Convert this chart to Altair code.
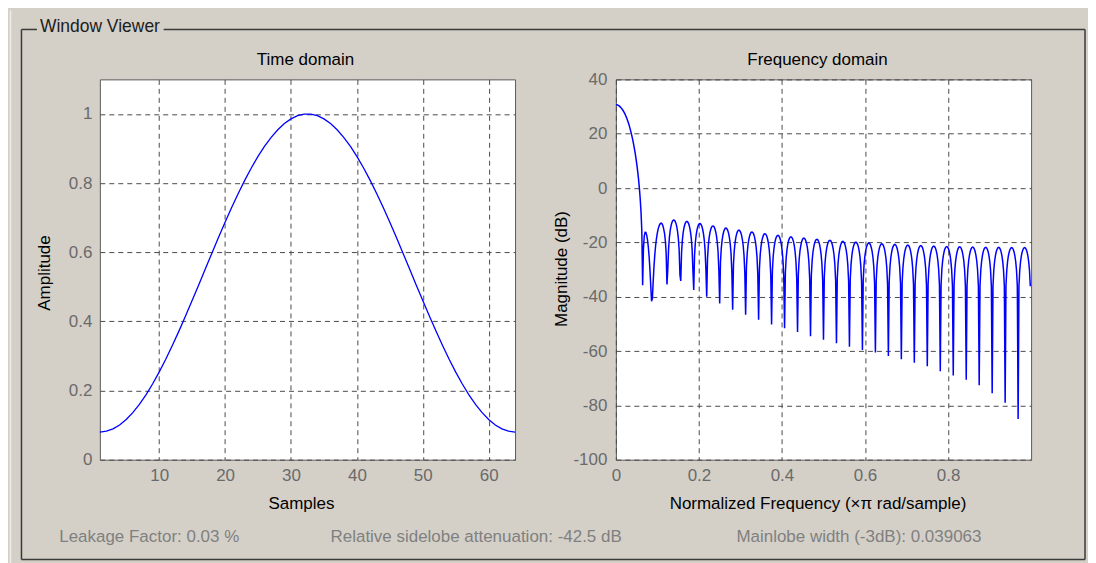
import altair as alt
import pandas as pd

# ---------------- data ----------------
samples = list(range(1, 65))
amplitude = [
    0.0800, 0.0823, 0.0891, 0.1004, 0.1161, 0.1360, 0.1599, 0.1876,
    0.2188, 0.2532, 0.2905, 0.3301, 0.3719, 0.4154, 0.4601, 0.5056,
    0.5515, 0.5972, 0.6424, 0.6865, 0.7292, 0.7700, 0.8085, 0.8444,
    0.8772, 0.9067, 0.9325, 0.9544, 0.9723, 0.9858, 0.9949, 0.9994,
    0.9994, 0.9949, 0.9858, 0.9723, 0.9544, 0.9325, 0.9067, 0.8772,
    0.8444, 0.8085, 0.7700, 0.7292, 0.6865, 0.6424, 0.5972, 0.5515,
    0.5056, 0.4601, 0.4154, 0.3719, 0.3301, 0.2905, 0.2532, 0.2188,
    0.1876, 0.1599, 0.1360, 0.1161, 0.1004, 0.0891, 0.0823, 0.0800,
]

# magnitude (dB), 512 points from 0 to 511/512 (x pi rad/sample)
mag_db = [
    30.66, 30.63, 30.55, 30.42, 30.23, 29.98, 29.68, 29.32, 28.94, 28.46, 27.96, 27.37, 26.73, 26.03, 25.24, 24.39,
    23.45, 22.43, 21.32, 20.12, 18.83, 17.46, 15.91, 14.26, 12.45, 10.46, 8.27, 5.83, 3.07, -0.13, -3.95, -8.81,
    -15.94, -35.8, -22.2, -17.65, -16.30, -16.35, -17.33, -19.11, -21.70, -25.23, -29.93, -35.98, -41.70, -40.58, -34.44, -28.84,
    -24.53, -21.23, -18.68, -16.8, -15.23, -14.2, -13.41, -13.05, -12.95, -13.25, -13.88, -15.1, -16.72, -19.39, -23.92, -35.50,
    -30.03, -22.38, -18.17, -15.61, -13.92, -12.79, -12.11, -11.80, -11.83, -12.19, -12.93, -14.10, -15.83, -18.41, -22.66, -31.95,
    -34.2, -23.68, -19.08, -16.36, -14.58, -13.41, -12.68, -12.33, -12.33, -12.66, -13.36, -14.48, -16.13, -18.59, -22.49, -30.39,
    -37.5, -24.70, -20.05, -17.29, -15.46, -14.25, -13.51, -13.14, -13.11, -13.42, -14.09, -15.17, -16.78, -19.15, -22.85, -29.92,
    -40.0, -25.97, -21.11, -18.27, -16.40, -15.16, -14.39, -14.00, -13.95, -14.24, -14.89, -15.94, -17.52, -19.85, -23.47, -30.33,
    -42.5, -27.10, -22.08, -19.18, -17.27, -16.02, -15.23, -14.82, -14.76, -15.04, -15.67, -16.70, -18.27, -20.56, -24.12, -30.82,
    -44.8, -28.07, -22.94, -19.99, -18.07, -16.79, -15.99, -15.58, -15.50, -15.76, -16.39, -17.41, -18.95, -21.23, -24.74, -31.33,
    -46.6, -28.94, -23.73, -20.75, -18.81, -17.52, -16.70, -16.27, -16.19, -16.45, -17.06, -18.06, -19.59, -21.85, -25.33, -31.84,
    -48.5, -29.74, -24.44, -21.44, -19.47, -18.17, -17.36, -16.91, -16.82, -17.07, -17.66, -18.67, -20.19, -22.42, -25.88, -32.30,
    -50.2, -30.45, -25.10, -22.07, -20.10, -18.78, -17.94, -17.50, -17.40, -17.64, -18.24, -19.22, -20.72, -22.95, -26.38, -32.75,
    -51.6, -31.09, -25.69, -22.64, -20.66, -19.33, -18.49, -18.04, -17.93, -18.16, -18.75, -19.73, -21.22, -23.44, -26.85, -33.17,
    -53.0, -31.68, -26.23, -23.16, -21.16, -19.83, -18.98, -18.52, -18.41, -18.64, -19.22, -20.19, -21.68, -23.88, -27.27, -33.54,
    -54.6, -32.21, -26.72, -23.64, -21.63, -20.29, -19.43, -18.97, -18.85, -19.07, -19.65, -20.61, -22.09, -24.28, -27.66, -33.89,
    -55.8, -32.66, -27.14, -24.05, -22.03, -20.69, -19.83, -19.37, -19.24, -19.45, -20.03, -20.99, -22.47, -24.65, -28.02, -34.22,
    -57.1, -33.14, -27.59, -24.48, -22.45, -21.10, -20.23, -19.76, -19.63, -19.84, -20.41, -21.36, -22.83, -25.00, -28.35, -34.52,
    -58.4, -33.51, -27.92, -24.80, -22.77, -21.42, -20.55, -20.07, -19.94, -20.15, -20.71, -21.66, -23.13, -25.30, -28.64, -34.77,
    -59.6, -33.88, -28.28, -25.15, -23.10, -21.74, -20.87, -20.38, -20.25, -20.46, -21.01, -21.96, -23.42, -25.57, -28.90, -35.02,
    -60.5, -34.21, -28.58, -25.43, -23.39, -22.02, -21.15, -20.65, -20.52, -20.73, -21.27, -22.22, -23.67, -25.83, -29.14, -35.23,
    -61.8, -34.51, -28.86, -25.70, -23.65, -22.28, -21.40, -20.92, -20.77, -20.96, -21.52, -22.46, -23.91, -26.06, -29.36, -35.43,
    -63.0, -34.78, -29.10, -25.95, -23.89, -22.51, -21.62, -21.14, -20.99, -21.18, -21.74, -22.67, -24.11, -26.25, -29.56, -35.60,
    -64.3, -35.04, -29.33, -26.17, -24.10, -22.72, -21.84, -21.34, -21.19, -21.38, -21.92, -22.86, -24.30, -26.43, -29.73, -35.74,
    -65.6, -35.24, -29.51, -26.34, -24.27, -22.90, -22.01, -21.51, -21.36, -21.55, -22.09, -23.02, -24.47, -26.60, -29.89, -35.88,
    -67.4, -35.49, -29.75, -26.56, -24.49, -23.09, -22.20, -21.69, -21.54, -21.73, -22.26, -23.19, -24.61, -26.74, -30.01, -35.99,
    -69.0, -35.60, -29.84, -26.65, -24.57, -23.18, -22.29, -21.77, -21.62, -21.81, -22.33, -23.26, -24.69, -26.81, -30.08, -36.04,
    -70.6, -35.75, -29.97, -26.77, -24.69, -23.29, -22.40, -21.88, -21.73, -21.92, -22.44, -23.37, -24.79, -26.91, -30.17, -36.11,
    -72.6, -35.87, -30.08, -26.87, -24.78, -23.39, -22.48, -21.98, -21.81, -21.98, -22.52, -23.43, -24.86, -26.97, -30.22, -36.15,
    -75.5, -35.97, -30.15, -26.94, -24.85, -23.45, -22.55, -22.04, -21.87, -22.04, -22.57, -23.49, -24.91, -27.02, -30.27, -36.17,
    -79.0, -36.08, -30.24, -27.02, -24.92, -23.51, -22.61, -22.09, -21.92, -22.09, -22.61, -23.53, -24.94, -27.04, -30.28, -36.16,
    -85.0, -36.12, -30.27, -27.04, -24.94, -23.53, -22.62, -22.10, -21.93, -22.10, -22.62, -23.53, -24.94, -27.04, -30.27, -36.14,
]
freq = [k / 512 for k in range(len(mag_db))]

time_x_ticks = [10, 20, 30, 40, 50, 60]
time_y_ticks = [0, 0.2, 0.4, 0.6, 0.8, 1]
freq_x_ticks = [0, 0.2, 0.4, 0.6, 0.8]
freq_y_ticks = [-100, -80, -60, -40, -20, 0, 20, 40]

FRAME_LABEL = "Window Viewer"
TITLE_LEFT = "Time domain"
TITLE_RIGHT = "Frequency domain"
XLABEL_LEFT = "Samples"
YLABEL_LEFT = "Amplitude"
XLABEL_RIGHT = "Normalized Frequency  (\u00d7\u03c0 rad/sample)"
YLABEL_RIGHT = "Magnitude (dB)"
INFO = ["Leakage Factor: 0.03 %",
        "Relative sidelobe attenuation: -42.5 dB",
        "Mainlobe width (-3dB): 0.039063"]

# ---------------- styling ----------------
FONT = "Liberation Sans"
GRID = "#4a4a4a"
LABEL_GREY = "#6a6a6a"
INFO_GREY = "#808080"
FRAME = "#3a3a3a"
BG = "#d4d0c8"
BLUE = "#0000ff"
W, H = 416, 381

one = pd.DataFrame({"k": [0]})


def text(t, x, y, size=17, color="#000000", align="center", angle=0):
    kw = dict(align=align, baseline="alphabetic", font=FONT, fontSize=size, color=color)
    if angle:
        kw["angle"] = angle
    return alt.Chart(pd.DataFrame({"t": [t]})).mark_text(**kw).encode(
        text="t:N", x=alt.value(x), y=alt.value(y))


def hline(x1, x2, y, color=FRAME, w=1.5):
    return alt.Chart(one).mark_rule(color=color, strokeWidth=w).encode(
        x=alt.value(x1), x2=alt.value(x2), y=alt.value(y))


def vline(x, y1, y2, color=FRAME, w=1.5):
    return alt.Chart(one).mark_rule(color=color, strokeWidth=w).encode(
        x=alt.value(x), y=alt.value(y1), y2=alt.value(y2))


def axis(values, pad, flush=None):
    kw = dict(values=values, labelExpr="'' + datum.value", grid=True, gridColor=GRID,
              gridDash=[5, 4], gridWidth=1, gridOpacity=1, domain=False, ticks=False,
              tickSize=0, labelFont=FONT, labelFontSize=17, labelColor=LABEL_GREY,
              labelPadding=pad, title=None)
    if flush is not None:
        kw["labelFlush"] = flush
    return alt.Axis(**kw)


# ---------------- left panel (time domain) ----------------
time_df = pd.DataFrame({"n": samples, "amp": amplitude})
time_line = alt.Chart(time_df).mark_line(color=BLUE, strokeWidth=1.3).encode(
    x=alt.X("n:Q", scale=alt.Scale(domain=[1, 64], nice=False, zero=False),
            axis=axis(time_x_ticks, 8, False)),
    y=alt.Y("amp:Q", scale=alt.Scale(domain=[0, 1.1], nice=False),
            axis=axis(time_y_ticks, 8)),
)

# page coordinates -> left panel coordinates: x - 99, y - 77
# whole drawing spans page x 8..1088, y 8..563
extent = alt.Chart(one).mark_rect(opacity=0).encode(
    x=alt.value(-91), x2=alt.value(989), y=alt.value(-69), y2=alt.value(486))
highlight = vline(-89.5, -69, 486, color="#eeece8", w=1.5)
frame = [
    vline(-78.5, -50, 481),
    vline(987, -50, 481),
    hline(-78.5, 987, 481),
    hline(-78.5, -63, -50),
    hline(64, 987, -50),
]

left = alt.layer(
    extent, highlight, *frame,
    time_line,
    text(FRAME_LABEL, -60, -47, size=17.5, color="#202020", align="left"),
    text(TITLE_LEFT, 206, -14),
    text(XLABEL_LEFT, 202, 430),
    text(YLABEL_LEFT, -50, 194, angle=270),
    text(INFO[0], 49.5, 463, color=INFO_GREY),
    text(INFO[1], 377, 463, color=INFO_GREY),
    text(INFO[2], 760.5, 463, color=INFO_GREY),
).properties(width=W, height=H)

# ---------------- right panel (frequency domain) ----------------
freq_df = pd.DataFrame({"f": freq, "db": mag_db})
freq_line = alt.Chart(freq_df).mark_line(color=BLUE, strokeWidth=1.5).encode(
    x=alt.X("f:Q", scale=alt.Scale(domain=[0, 1], nice=False, zero=False),
            axis=axis(freq_x_ticks, 8, False)),
    y=alt.Y("db:Q", scale=alt.Scale(domain=[-100, 40], nice=False, zero=False),
            axis=axis(freq_y_ticks, 9)),
)

# page coordinates -> right panel coordinates: x - 616, y - 77
right = alt.layer(
    freq_line,
    text(TITLE_RIGHT, 202, -14),
    text(XLABEL_RIGHT, 202.5, 430),
    text(YLABEL_RIGHT, -49, 190, angle=270),
).properties(width=W, height=H)

chart = alt.hconcat(left, right, spacing=101, bounds="flush").properties(
    background=BG, padding=0
).configure_view(fill="white", stroke="#5a5a5a", strokeWidth=1)

chart.save("out.html", embed_options={"renderer": "svg", "actions": False})
